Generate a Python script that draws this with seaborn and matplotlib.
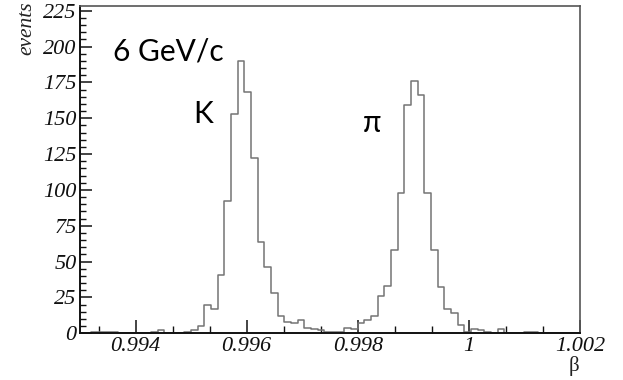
import numpy as np
import pandas as pd
import matplotlib
matplotlib.use("Agg")
import matplotlib.pyplot as plt
import seaborn as sns
from matplotlib.ticker import MultipleLocator, FixedLocator, FixedFormatter

# Histogram binning of the velocity distribution
bin_start = 0.99308
bin_width = 0.00012
counts = [
    0, 1, 1, 1, 1, 0, 0, 0, 0, 0,
    1, 2, 0, 0, 0, 1, 2, 5, 20, 17,
    41, 92, 153, 190, 168, 122, 64, 46, 28, 12,
    8, 7, 9, 4, 3, 2, 1, 1, 1, 4,
    3, 7, 9, 12, 26, 33, 58, 98, 159, 176,
    166, 98, 58, 32, 17, 14, 6, 1, 3, 2,
    1, 0, 3, 0, 0, 0, 1, 1, 0, 0,
    0, 0, 0, 0, 0,
]

xtick_vals = [0.994, 0.996, 0.998, 1.0, 1.002]
xtick_labels = ["0.994", "0.996", "0.998", "1", "1.002"]
ytick_vals = [0, 25, 50, 75, 100, 125, 150, 175, 200, 225]
ytick_labels = [str(v) for v in ytick_vals]

momentum_label = "6 GeV/c"
peak_labels = ["K", "π"]
peak_label_pos = [(0.99504, 146.7), (0.99810, 140.3)]

n = len(counts)
edges = [float(e) for e in bin_start + bin_width * np.arange(n + 1)]
centers = [e + bin_width / 2 for e in edges[:-1]]
df = pd.DataFrame({"beta": centers, "events": counts})

sns.set_theme(style="ticks")
plt.rcParams["font.family"] = ["DejaVu Sans"]

W, H = 623, 380
fig = plt.figure(figsize=(W / 100, H / 100), dpi=100)
left, right, top, bottom = 80, 580, 6.4, 333.3
ax = fig.add_axes([left / W, 1 - bottom / H, (right - left) / W, (bottom - top) / H])

sns.histplot(data=df, x="beta", weights="events", bins=edges,
             element="step", fill=False, color="#747474", linewidth=1.1, ax=ax)

ax.set_xlim(0.993, 1.002)
ax.set_ylim(0, 228)
ax.set_xlabel("")
ax.set_ylabel("")

# Frame
for side in ["left", "bottom"]:
    ax.spines[side].set_color("#111111")
    ax.spines[side].set_linewidth(1.4)
for side in ["top", "right"]:
    ax.spines[side].set_visible(True)
    ax.spines[side].set_color("#555555")
    ax.spines[side].set_linewidth(1.2)

# Ticks pointing inside the frame
ax.xaxis.set_major_locator(FixedLocator(xtick_vals))
ax.xaxis.set_major_formatter(FixedFormatter(xtick_labels))
ax.xaxis.set_minor_locator(MultipleLocator(0.002 / 3))
ax.yaxis.set_major_locator(FixedLocator(ytick_vals))
ax.yaxis.set_major_formatter(FixedFormatter(ytick_labels))
ax.yaxis.set_minor_locator(MultipleLocator(5))

ax.tick_params(axis="x", which="major", direction="in", length=9.5, width=1.1,
               color="#111111", pad=3, top=False)
ax.tick_params(axis="x", which="minor", direction="in", length=5, width=1.0,
               color="#111111", top=False)
ax.tick_params(axis="y", which="major", direction="in", length=8.6, width=1.1,
               color="#111111", pad=2.5, right=False)
ax.tick_params(axis="y", which="minor", direction="in", length=4.3, width=1.0,
               color="#111111", right=False)

serif = ["Liberation Serif", "DejaVu Serif"]
for lab in ax.get_xticklabels() + ax.get_yticklabels():
    lab.set_fontfamily(serif)
    lab.set_fontstyle("italic")
    lab.set_fontsize(16)
    lab.set_color("#111111")

# Axis titles
fig.text(27 / W, 1 - 1 / H, "events", rotation=90, ha="center", va="top",
         fontsize=15.5, fontstyle="italic", family=serif, color="#222222")
fig.text(574 / W, 1 - 366 / H, "β", ha="center", va="center",
         fontsize=15, family=serif, color="#222222")

# Annotations
ann_font = ["Lato", "DejaVu Sans"]
ax.text(0.9936, 190, momentum_label, ha="left", va="baseline",
        fontsize=21.5, family=ann_font, color="black")
for lab, (x, y) in zip(peak_labels, peak_label_pos):
    ax.text(x, y, lab, ha="left", va="baseline", fontsize=21.5,
            family=ann_font, color="black")

fig.savefig("out.png", dpi=100)
